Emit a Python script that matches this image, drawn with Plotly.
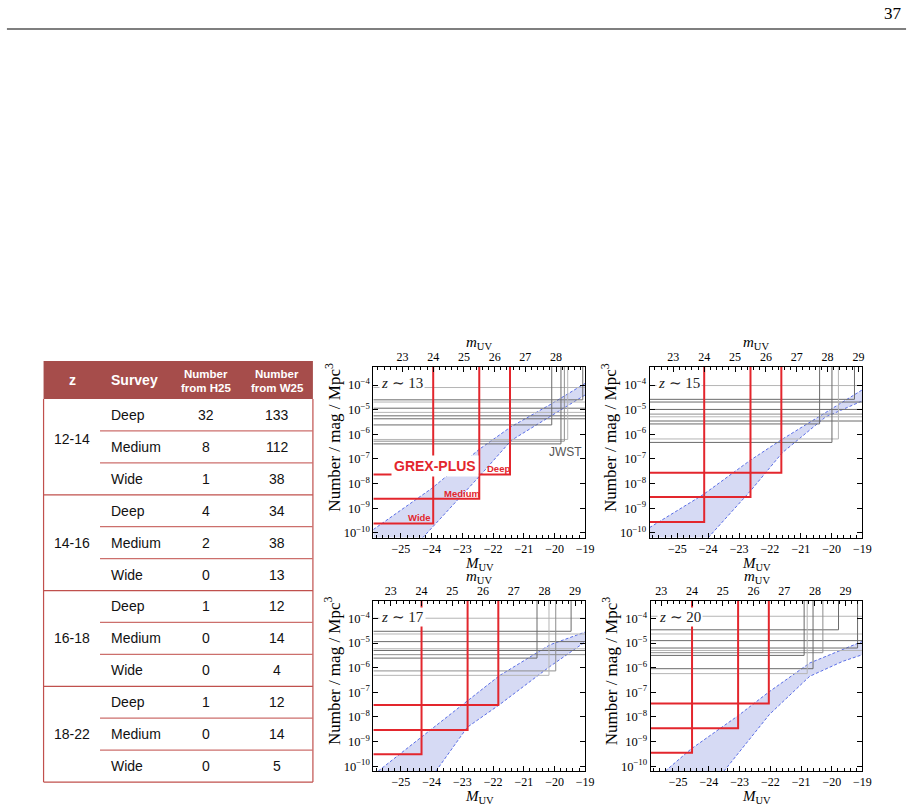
import plotly.graph_objects as go

W, H = 921, 810

# ---------------- data: table ----------------
z_bins = ["12-14", "14-16", "16-18", "18-22"]
survey_names = ["Deep", "Medium", "Wide"]
n_from_h25 = [32, 8, 1, 4, 2, 0, 1, 0, 0, 1, 0, 0]
n_from_w25 = [133, 112, 38, 34, 38, 13, 12, 14, 4, 12, 14, 5]

# ---------------- data: panels ----------------
panel_z = ["13", "15", "17", "20"]
m_minus_M = [47.95, 48.13, 48.33, 48.55]          # apparent - absolute magnitude

grex_names = ["Wide", "Medium", "Deep"]
grex_mlim = [24.0, 25.5, 26.5]
grex_logn = [
    [-9.62, -8.62, -7.63],
    [-9.56, -8.55, -7.56],
    [-9.52, -8.53, -7.52],
    [-9.45, -8.46, -7.45],
]

jwst_logn = [
    [-4.10, -4.60, -4.69, -4.94, -5.11, -5.25, -5.37, -5.62, -6.21, -6.28, -6.39],
    [-4.02, -4.58, -4.69, -4.99, -5.18, -5.29, -5.46, -5.58, -6.19, -6.33],
    [-3.99, -4.52, -4.63, -4.94, -5.23, -5.30, -5.47, -5.61, -6.13, -6.31],
    [-3.91, -4.46, -4.63, -4.90, -5.20, -5.30, -5.39, -5.50, -6.04, -6.24],
]
jwst_mlim = [
    [30.0, 28.87, 30.0, 30.0, 30.0, 30.0, 30.0, 27.86, 28.38, 28.27, 28.16],
    [30.0, 28.87, 30.0, 30.0, 30.0, 30.0, 30.0, 27.74, 28.35, 28.14],
    [30.0, 28.87, 30.0, 30.0, 30.0, 30.0, 30.0, 27.76, 28.37, 28.15],
    [30.0, 28.77, 30.0, 30.0, 29.39, 30.0, 28.26, 27.65, 27.94, 27.75],
]

band_up_M = [
    [-25.9, -24.0, -22.44, -21.41, -20.15, -19.0],
    [-25.9, -24.16, -22.63, -21.6, -20.2, -19.0],
    [-25.74, -24.36, -22.84, -21.79, -20.15, -19.0],
    [-25.42, -24.59, -23.05, -22.03, -20.72, -19.0],
]
band_up_logn = [
    [-9.87, -8.2, -6.6, -5.69, -4.80, -3.93],
    [-9.79, -8.45, -7.05, -6.2, -5.12, -4.19],
    [-10.2, -8.84, -7.36, -6.32, -5.07, -4.55],
    [-10.2, -9.31, -7.95, -6.97, -5.81, -4.93],
]
band_lo_M = [
    [-24.29, -22.44, -21.41, -20.15, -19.0],
    [-24.0, -22.63, -21.6, -20.2, -19.0],
    [-23.86, -22.84, -21.79, -20.15, -19.0],
    [-23.51, -22.03, -20.72, -19.64, -19.0],
]
band_lo_logn = [
    [-10.2, -7.70, -6.25, -5.27, -4.40],
    [-10.2, -8.3, -6.75, -5.3, -4.64],
    [-10.2, -8.42, -7.5, -5.95, -4.95],
    [-10.2, -7.9, -6.35, -5.74, -5.47],
]

y_tick_exp = [-10, -9, -8, -7, -6, -5, -4]

# ---------------- styles / layout ----------------
X_MIN, X_MAX = -25.9, -19.0
LOG_MIN, LOG_MAX = -10.2, -3.27
panel_px = [(377, 591, 368, 539), (656, 871, 368, 539), (377, 591, 602, 773), (657, 871, 602, 773)]
DARK, MID, LIGHT = "#6a6a6a", "#8e8e8e", "#b5b5b5"
jwst_shade = [
    [LIGHT, DARK, LIGHT, DARK, LIGHT, DARK, DARK, DARK, LIGHT, MID, DARK],
    [LIGHT, DARK, DARK, DARK, MID, LIGHT, DARK, DARK, LIGHT, DARK],
    [LIGHT, DARK, LIGHT, DARK, LIGHT, DARK, MID, DARK, MID, LIGHT],
    [LIGHT, DARK, LIGHT, DARK, DARK, LIGHT, MID, DARK, DARK, LIGHT],
]
RED = "#e3262d"
BAND_FILL = "#d6daf4"
BAND_LINE = "#5a6ee6"
SERIF = "Liberation Serif"
SANS = "Liberation Sans"


def px(x):
    return x / W


def py(y):
    return 1 - y / H


def ref(prefix, n):
    return prefix if n == 1 else f"{prefix}{n}"


def key(prefix, n):
    return f"{prefix}axis" if n == 1 else f"{prefix}axis{n}"


def note(text, x, y, font, xref="paper", yref="paper", xanchor="center", yanchor="middle", **kw):
    if xref == "paper":
        x = px(x)
    if yref == "paper":
        y = py(y)
    return dict(text=text, x=x, y=y, xref=xref, yref=yref, xanchor=xanchor, yanchor=yanchor,
                showarrow=False, font=font, **kw)


fig = go.Figure()
shapes, annotations = [], []
layout_axes = {}
tickfont = dict(family=SERIF, size=12, color="black")

for i in range(4):
    x0, x1, y0, y1 = panel_px[i]
    xb, xt, yr = ref("x", 2 * i + 1), ref("x", 2 * i + 2), ref("y", i + 1)
    off = m_minus_M[i]

    # band
    poly_x = band_up_M[i] + band_lo_M[i][::-1] + [X_MIN]
    poly_y = band_up_logn[i] + band_lo_logn[i][::-1] + [LOG_MIN]
    fig.add_trace(go.Scatter(x=poly_x, y=[10 ** v for v in poly_y], mode="lines",
                             line=dict(width=0), fill="toself", fillcolor=BAND_FILL,
                             xaxis=xb, yaxis=yr, hoverinfo="skip", showlegend=False))
    for mx, ly in ((band_up_M[i], band_up_logn[i]), (band_lo_M[i], band_lo_logn[i])):
        fig.add_trace(go.Scatter(x=mx, y=[10 ** v for v in ly], mode="lines",
                                 line=dict(color=BAND_LINE, width=1, dash="3px,2px"),
                                 xaxis=xb, yaxis=yr, hoverinfo="skip", showlegend=False))

    # JWST surveys
    for lev, ml, col in zip(jwst_logn[i], jwst_mlim[i], jwst_shade[i]):
        mv = ml - off
        fig.add_trace(go.Scatter(x=[X_MIN, mv, mv], y=[10 ** lev, 10 ** lev, 10 ** LOG_MAX],
                                 mode="lines", line=dict(color=col, width=1),
                                 xaxis=xb, yaxis=yr, hoverinfo="skip", showlegend=False))
    # GREX-PLUS surveys
    for lev, ml in zip(grex_logn[i], grex_mlim):
        mv = ml - off
        fig.add_trace(go.Scatter(x=[X_MIN, mv, mv], y=[10 ** lev, 10 ** lev, 10 ** LOG_MAX],
                                 mode="lines", line=dict(color=RED, width=2),
                                 xaxis=xb, yaxis=yr, hoverinfo="skip", showlegend=False))
    # invisible trace on the top (apparent magnitude) axis
    fig.add_trace(go.Scatter(x=[grex_mlim[0]], y=[10 ** grex_logn[i][0]], mode="markers",
                             marker=dict(opacity=0, size=1), xaxis=xt, yaxis=yr,
                             hoverinfo="skip", showlegend=False))

    layout_axes[key("x", 2 * i + 1)] = dict(
        domain=[px(x0), px(x1)], range=[X_MIN, X_MAX], anchor=yr,
        showline=True, mirror=True, linecolor="black", linewidth=1,
        ticks="inside", ticklen=5, tickcolor="black", tickmode="linear", tick0=0, dtick=1,
        minor=dict(ticks="inside", ticklen=3, tickcolor="black", tick0=0, dtick=0.2),
        showgrid=False, zeroline=False, tickfont=tickfont)
    layout_axes[key("x", 2 * i + 2)] = dict(
        overlaying=xb, side="top", anchor=yr, range=[X_MIN + off, X_MAX + off],
        showline=True, linecolor="black", linewidth=1,
        ticks="inside", ticklen=5, tickcolor="black", tickmode="linear", tick0=0, dtick=1,
        minor=dict(ticks="inside", ticklen=3, tickcolor="black", tick0=0, dtick=0.2),
        showgrid=False, zeroline=False, tickfont=tickfont)
    layout_axes[key("y", i + 1)] = dict(
        domain=[py(y1), py(y0)], type="log", range=[LOG_MIN, LOG_MAX], anchor=xb,
        showline=True, mirror="ticks", linecolor="black", linewidth=1,
        ticks="inside", ticklen=5, tickcolor="black", tickmode="array",
        tickvals=[10 ** e for e in y_tick_exp],
        ticktext=[f"10<sup>\u2212{-e}</sup>" for e in y_tick_exp],
        showgrid=False, zeroline=False, tickfont=dict(family=SERIF, size=12.5, color="black"))

    cx = (x0 + x1) / 2
    axfont = dict(family=SERIF, size=15, color="black")
    annotations += [
        note("<i>M</i><sub>UV</sub>", cx, y1 + 26, axfont),
        note("<i>m</i><sub>UV</sub>", cx, y0 - 24, axfont),
        note("Number / mag / Mpc<sup>3</sup>", x0 - 41, y0 + 70,
             dict(family=SERIF, size=17, color="black"), textangle=-90),
        note(f"<i>z</i> \u223c {panel_z[i]}", -24.95, -3.93,
             dict(family=SERIF, size=15, color="#222"), xref=xb, yref=yr,
             bgcolor="white", borderpad=1),
    ]

# labels of the first panel
annotations += [
    note("<b>GREX-PLUS</b>", -23.9, -7.29, dict(family=SANS, size=14, color=RED),
         xref="x", yref="y", bgcolor="white", borderpad=2),
    note("<b>Deep</b>", -21.84, -7.39, dict(family=SANS, size=9.5, color=RED), xref="x", yref="y"),
    note("<b>Medium</b>", -23.02, -8.40, dict(family=SANS, size=9.5, color=RED), xref="x", yref="y"),
    note("<b>Wide</b>", -24.41, -9.38, dict(family=SANS, size=9.5, color=RED), xref="x", yref="y"),
    note("JWST", -19.64, -6.71, dict(family=SANS, size=12, color="#555"), xref="x", yref="y"),
]

# ---------------- page header ----------------
annotations.append(note("37", 913, 14, dict(family=SERIF, size=17, color="black"), xanchor="right"))
shapes.append(dict(type="line", xref="paper", yref="paper", x0=px(7), x1=px(915),
                   y0=py(29), y1=py(29), line=dict(color="#555", width=1.5)))

# ---------------- table ----------------
T_L, T_R, T_TOP, T_HB, ROW_H = 44, 316, 362, 400, 32
HEAD = "#a64d4b"
LINE_COL = "#c0504d"
ROW_LINE = "#cc6f6c"
n_rows = len(n_from_h25)
T_BOT = T_HB + ROW_H * n_rows

shapes.append(dict(type="rect", xref="paper", yref="paper", x0=px(T_L), x1=px(T_R),
                   y0=py(T_HB), y1=py(T_TOP), fillcolor=HEAD, line=dict(width=0), layer="above"))
for xx in (T_L, T_R):
    shapes.append(dict(type="line", xref="paper", yref="paper", x0=px(xx), x1=px(xx),
                       y0=py(T_HB), y1=py(T_BOT), line=dict(color=LINE_COL, width=1.2)))
shapes.append(dict(type="line", xref="paper", yref="paper", x0=px(T_L), x1=px(T_R),
                   y0=py(T_BOT), y1=py(T_BOT), line=dict(color=LINE_COL, width=1.2)))
for r in range(1, n_rows):
    yy = T_HB + ROW_H * r
    if r % 3 == 0:
        shapes.append(dict(type="line", xref="paper", yref="paper", x0=px(T_L), x1=px(T_R),
                           y0=py(yy), y1=py(yy), line=dict(color=LINE_COL, width=1.2)))
    else:
        shapes.append(dict(type="line", xref="paper", yref="paper", x0=px(101), x1=px(T_R),
                           y0=py(yy), y1=py(yy), line=dict(color=ROW_LINE, width=1.2)))

hfont = dict(family=SANS, size=14, color="white")
hsmall = dict(family=SANS, size=11.5, color="white")
annotations += [
    note("<b>z</b>", 73, 381, hfont),
    note("<b>Survey</b>", 110, 381, hfont, xanchor="left"),
    note("<b>Number</b>", 208, 375, hsmall),
    note("<b>from H25</b>", 208, 388.5, hsmall),
    note("<b>Number</b>", 280, 375, hsmall),
    note("<b>from W25</b>", 280, 388.5, hsmall),
]
bfont = dict(family=SANS, size=14, color="#111")
group_nudge = [-8, 0, 0, 0]
for g, zb in enumerate(z_bins):
    yc = T_HB + ROW_H * (3 * g + 1.5) + group_nudge[g]
    annotations.append(note(zb, 73, yc, bfont))
for r in range(n_rows):
    yc = T_HB + ROW_H * (r + 0.5)
    annotations += [
        note(survey_names[r % 3], 110, yc, bfont, xanchor="left"),
        note(str(n_from_h25[r]), 208, yc, bfont),
        note(str(n_from_w25[r]), 280, yc, bfont),
    ]

fig.update_layout(
    width=W, height=H, autosize=False,
    margin=dict(l=0, r=0, t=0, b=0),
    paper_bgcolor="white", plot_bgcolor="white",
    showlegend=False, shapes=shapes, annotations=annotations,
    **layout_axes,
)

fig.write_html("out.html")
